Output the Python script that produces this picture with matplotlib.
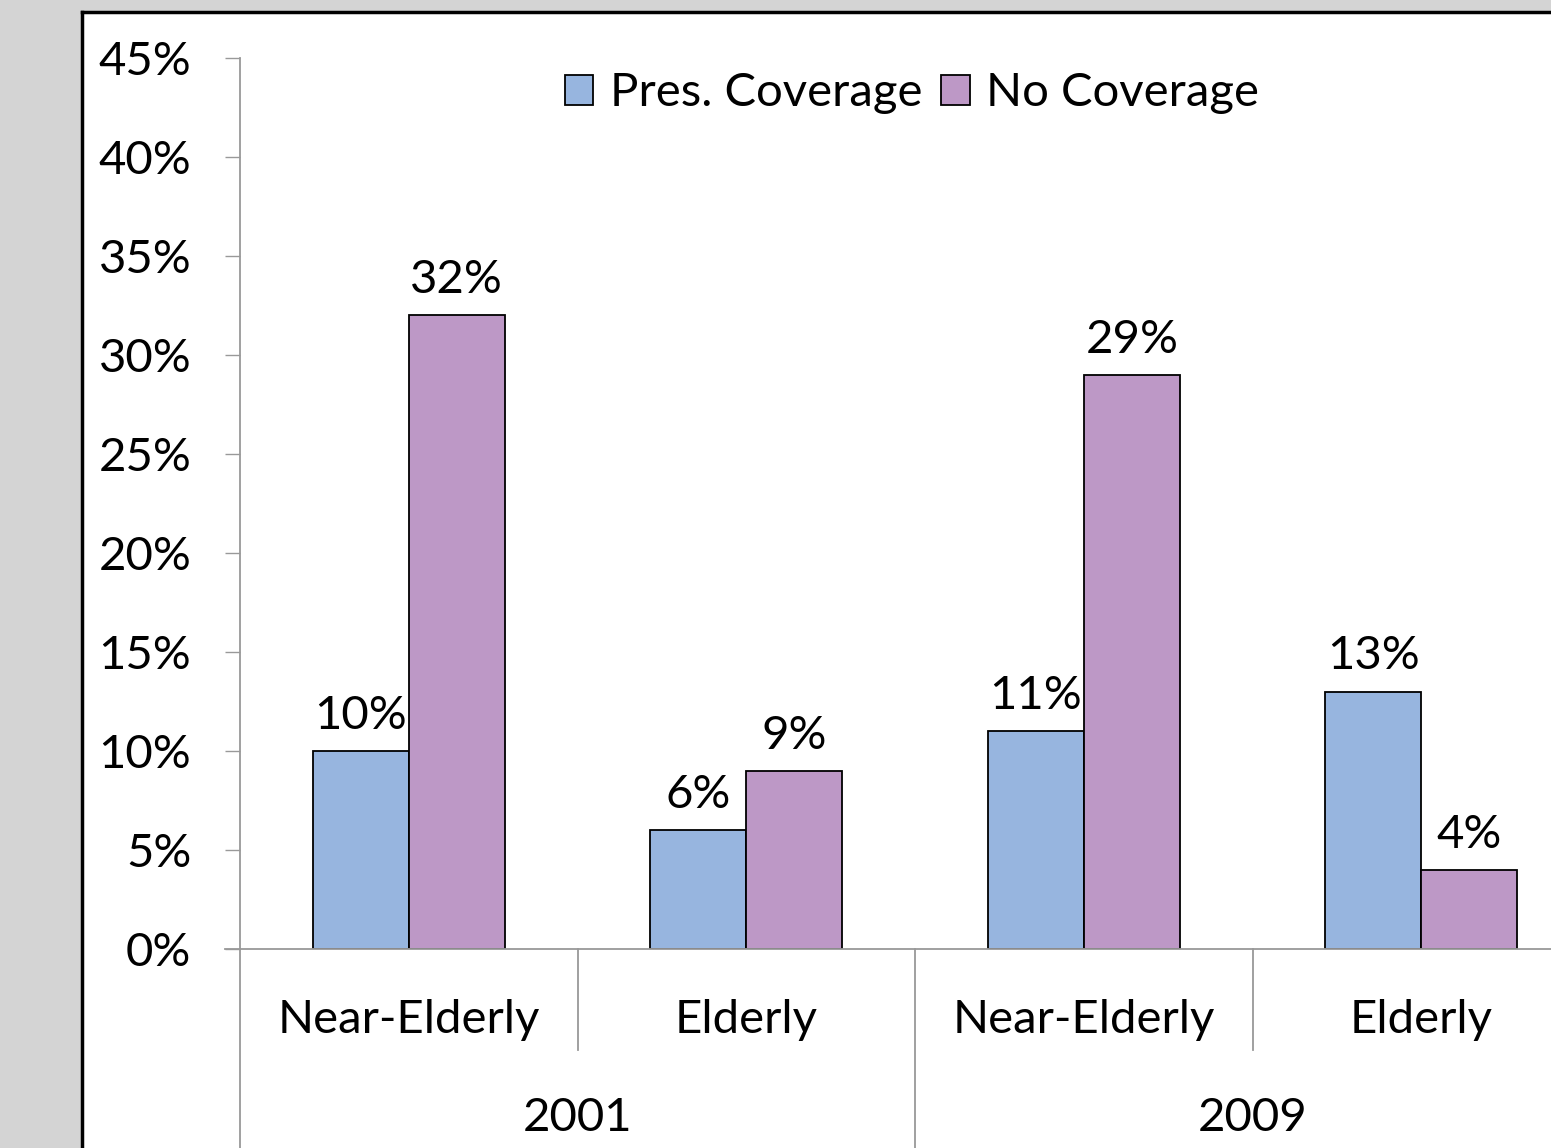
import matplotlib.pyplot as plt
from matplotlib.patches import Rectangle
from matplotlib.lines import Line2D

plt.rcParams['font.family'] = ['Lato', 'DejaVu Sans']

groups = ["Near-Elderly", "Elderly", "Near-Elderly", "Elderly"]
years = ["2001", "2009"]
pres_coverage = [10, 6, 11, 13]
no_coverage = [32, 9, 29, 4]
series_names = ["Pres. Coverage", "No Coverage"]
colors = ["#97B5DF", "#BD98C6"]

FS = 34
W, H = 1551, 1148
fig = plt.figure(figsize=(W / 100, H / 100), dpi=100, facecolor="#d4d4d4")

# white chart panel with black border on top and left
fig.patches.append(Rectangle((82 / W, 0), 1, 1 - 12 / H, transform=fig.transFigure,
                             facecolor="white", edgecolor="none", zorder=-10))
fig.lines.append(Line2D([82 / W, 82 / W], [0, 1 - 12 / H], transform=fig.transFigure,
                        color="black", lw=2.5, zorder=-5))
fig.lines.append(Line2D([82 / W, 1], [1 - 12 / H, 1 - 12 / H], transform=fig.transFigure,
                        color="black", lw=2.5, zorder=-5))

ax_l, ax_b = 240 / W, (H - 949) / H
ax = fig.add_axes([ax_l, ax_b, 1350 / W, (949 - 58) / H])
ax.set_facecolor("none")
ax.set_zorder(5)

x = list(range(len(groups)))
bw = 0.285
for i, (vals, name, c) in enumerate(zip([pres_coverage, no_coverage], series_names, colors)):
    pos = [xi + (i - 0.5) * bw for xi in x]
    bars = ax.bar(pos, vals, width=bw, color=c, edgecolor="black", linewidth=1.3, label=name)
    for b, v in zip(bars, vals):
        ax.annotate(f"{v}%", (b.get_x() + b.get_width() / 2, v), xytext=(0, 16),
                    textcoords="offset points", ha="center", va="baseline", fontsize=FS)

ax.set_xlim(-0.5, 3.5)
ax.set_ylim(0, 45)
ax.set_yticks(range(0, 46, 5))
ax.set_yticklabels([f"{t}%" for t in range(0, 46, 5)], fontsize=FS)
ax.tick_params(axis="y", length=11, width=1, color="#999999", pad=24)
ax.set_xticks([])
for s in ["top", "right"]:
    ax.spines[s].set_visible(False)
for s in ["left", "bottom"]:
    ax.spines[s].set_color("#999999")
    ax.spines[s].set_linewidth(1.3)
ax.spines["bottom"].set_bounds(-0.5 - 15 / 337.5, 3.5)

# multi-level category axis
axh = 949 - 58
tr = ax.get_xaxis_transform()
for xi, g in zip(x, groups):
    ax.text(xi, -(1020 - 949) / axh, g, transform=tr, ha="center", va="center", fontsize=FS)
for k, yr in enumerate(years):
    ax.text(2 * k + 0.5, -(1118 - 949) / axh, yr, transform=tr, ha="center", va="center", fontsize=FS)
for sx in [-0.5, 0.5, 1.5, 2.5]:
    bottom = -(1148 - 949) / axh if sx in (-0.5, 1.5) else -(1050 - 949) / axh
    ax.plot([sx, sx], [0, bottom], transform=tr, color="#999999", lw=1.3, clip_on=False)

ax.legend(loc="upper center", bbox_to_anchor=((912 - 240) / 1350, 1.005), ncol=2, frameon=False,
          fontsize=FS, handlelength=0.6, handleheight=0.6, handletextpad=0.35, columnspacing=0.4,
          borderaxespad=0.0)

fig.savefig("out.png", dpi=100, facecolor=fig.get_facecolor())
